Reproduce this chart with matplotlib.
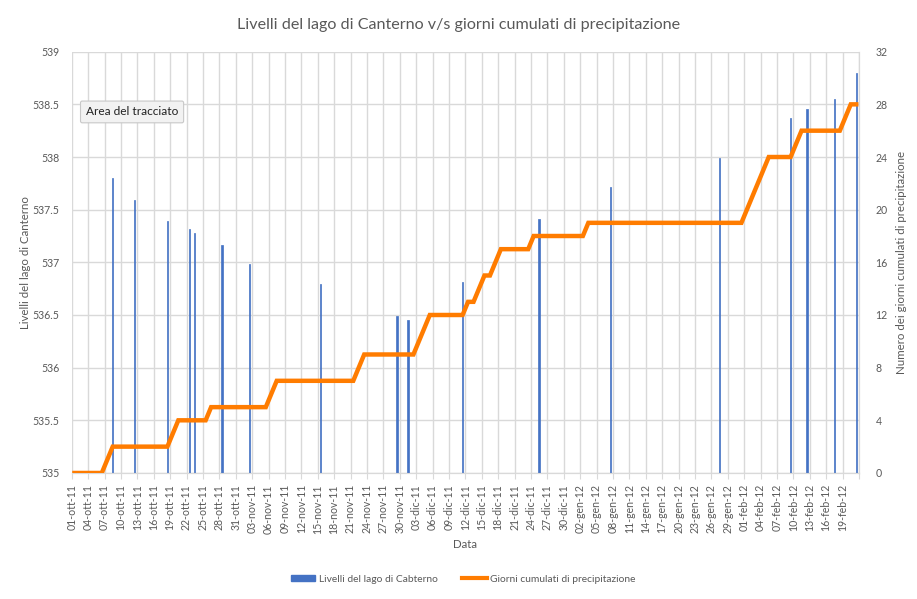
import matplotlib
matplotlib.use("Agg")
import matplotlib.pyplot as plt
from matplotlib.patches import Patch
from matplotlib.lines import Line2D
import numpy as np
import pandas as pd

plt.rcParams['font.family'] = ['Lato', 'DejaVu Sans']

# livelli del lago (colonne)
bar_dates = ['2011-10-08', '2011-10-12', '2011-10-18', '2011-10-22', '2011-10-23',
             '2011-10-28', '2011-11-02', '2011-11-15', '2011-11-29', '2011-12-01',
             '2011-12-11', '2011-12-25', '2012-01-07', '2012-01-27', '2012-02-09',
             '2012-02-12', '2012-02-17', '2012-02-21']
levels = [537.80, 537.59, 537.39, 537.32, 537.28,
          537.16, 536.98, 536.79, 536.49, 536.45,
          536.81, 537.41, 537.72, 537.99, 538.37,
          538.46, 538.55, 538.80]

# giorni cumulati di precipitazione, un valore al giorno dal 01-ott-11 al 21-feb-12
cum_oct = [0, 0, 0, 0, 0, 0, 1, 2, 2, 2, 2, 2, 2, 2, 2, 2, 2, 2, 3, 4,
           4, 4, 4, 4, 4, 5, 5, 5, 5, 5, 5]
cum_nov = [5, 5, 5, 5, 5, 6, 7, 7, 7, 7, 7, 7, 7, 7, 7, 7, 7, 7, 7, 7,
           7, 8, 9, 9, 9, 9, 9, 9, 9, 9]
cum_dec = [9, 9, 10, 11, 12, 12, 12, 12, 12, 12, 12, 13, 13, 14, 15, 15, 16, 17, 17, 17,
           17, 17, 17, 18, 18, 18, 18, 18, 18, 18, 18]
cum_jan = [18, 18, 19, 19, 19, 19, 19, 19, 19, 19, 19, 19, 19, 19, 19, 19, 19, 19, 19, 19,
           19, 19, 19, 19, 19, 19, 19, 19, 19, 19, 19]
cum_feb = [20, 21, 22, 23, 24, 24, 24, 24, 24, 25, 26, 26, 26, 26, 26, 26, 26, 26, 27, 28,
           28]

mesi = {10: 'ott', 11: 'nov', 12: 'dic', 1: 'gen', 2: 'feb'}

cum_days = cum_oct + cum_nov + cum_dec + cum_jan + cum_feb
line_dates = pd.date_range('2011-10-01', periods=len(cum_days), freq='D')
half = pd.Timedelta(hours=12)

blue = '#4472C4'
orange = '#FF7C00'
grid_c = '#D9D9D9'
txt_c = '#595959'

fig = plt.figure(figsize=(9.17, 5.99), dpi=100)
ax = fig.add_axes([0.0782, 0.2104, 0.8585, 0.7033])
ax2 = ax.twinx()

ax.bar(pd.to_datetime(bar_dates) + half, np.array(levels) - 535, bottom=535,
       width=0.25, color=blue, edgecolor=blue, lw=0.5, zorder=3)
ax2.plot(line_dates + half, cum_days, color=orange, lw=3.2,
         solid_joinstyle='miter', zorder=4)

x0 = pd.Timestamp('2011-10-01')
x1 = pd.Timestamp('2012-02-22')
ax.set_xlim(x0, x1)
ax.set_ylim(535, 539)
ax2.set_ylim(0, 32)
ax.set_yticks(np.arange(535, 539.01, 0.5))
ax.set_yticklabels(['535', '535.5', '536', '536.5', '537', '537.5', '538', '538.5', '539'])
ax2.set_yticks(np.arange(0, 33, 4))

ticks = pd.date_range(x0, x1, freq='3D')
ax.set_xticks(ticks)
ax.set_xticklabels([f"{d.day:02d}-{mesi[d.month]}-{d.year % 100:02d}" if d < x1 else ''
                    for d in ticks], rotation=90)

ax.grid(True, color=grid_c, lw=1, zorder=0)
ax.set_axisbelow(True)
for a in (ax, ax2):
    for s in ['top', 'left']:
        a.spines[s].set_visible(False)
    a.spines['right'].set_color(grid_c)
    a.spines['bottom'].set_color(grid_c)
ax2.spines['right'].set_visible(True)
ax.tick_params(axis='x', colors=grid_c, labelcolor=txt_c, labelsize=7.6, length=4, pad=4)
ax.tick_params(axis='y', length=0, labelcolor=txt_c, labelsize=7.6, pad=9)
ax2.tick_params(axis='y', length=0, labelcolor=txt_c, labelsize=7.6, pad=12)

ax.set_xlabel('Data', color=txt_c, fontsize=8.3, labelpad=4)
ax.set_ylabel('Livelli del lago di Canterno', color=txt_c, fontsize=8.3, labelpad=1)
ax2.set_ylabel('Numero dei giorni cumulati di precipitazione', color=txt_c, fontsize=8.3,
               labelpad=6)
fig.suptitle('Livelli del lago di Canterno v/s giorni cumulati di precipitazione',
             color=txt_c, fontsize=11.6, y=0.97)

ax.text(0.018, 0.857, 'Area del tracciato', transform=ax.transAxes, fontsize=8.6,
        color='#222222', va='center', zorder=10,
        bbox=dict(boxstyle='round,pad=0.45,rounding_size=0.15', fc='#F2F2F2',
                  ec='#C8C8C8', lw=0.8))

handles = [Patch(color=blue), Line2D([0], [0], color=orange, lw=3)]
fig.legend(handles, ['Livelli del lago di Cabterno', 'Giorni cumulati di precipitazione'],
           loc='center', bbox_to_anchor=(0.505, 0.033), ncol=2, frameon=False,
           fontsize=7.4, labelcolor=txt_c, handlelength=2.4, handleheight=0.6,
           columnspacing=2.4, handletextpad=0.3)

fig.savefig('out.png', dpi=100)
